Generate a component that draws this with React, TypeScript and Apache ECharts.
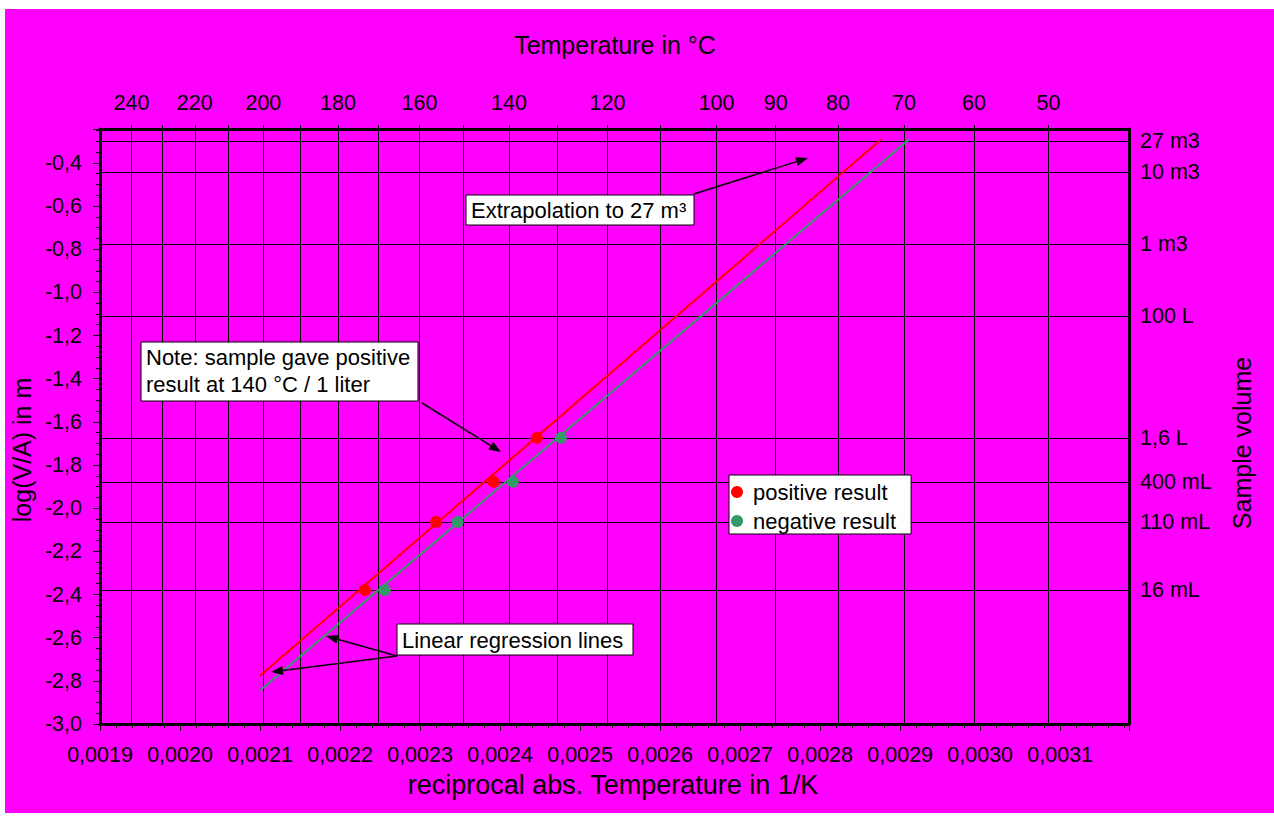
import React, { useEffect, useRef } from 'react';
import * as echarts from 'echarts';

// ---- axis ranges ----
const xMin = 0.0019;
const xMax = 0.003186;
const topMin = 0.0019093;
const topMax = 0.0031953;
const yMin = -3.0;
const yMax = -0.243;

// ---- temperature axis (°C) ----
const gridTemps = [240, 230, 220, 210, 200, 190, 180, 170, 160, 150, 140, 130, 120, 110, 100, 90, 80, 70, 60, 50];
const labelTemps = [240, 220, 200, 180, 160, 140, 120, 100, 90, 80, 70, 60, 50];

// ---- sample volume axis ----
const volumeLabels = ['27 m3', '10 m3', '1 m3', '100 L', '1,6 L', '400 mL', '110 mL', '16 mL'];
const volumeLogVA = [-0.298, -0.442, -0.775, -1.109, -1.674, -1.878, -2.064, -2.379];

// ---- measurements ----
const positiveX = [0.002231, 0.00232, 0.002392, 0.002446];
const positiveY = [-2.379, -2.064, -1.878, -1.674];
const negativeX = [0.002256, 0.002347, 0.002416, 0.002476];
const negativeY = [-2.379, -2.064, -1.878, -1.674];

// ---- regression lines ----
const fitPositiveX = [0.0021, 0.002876];
const fitPositiveY = [-2.776, -0.292];
const fitNegativeX = [0.0021, 0.002911];
const fitNegativeY = [-2.845, -0.292];

const FONT = '"Liberation Sans", Arial, Helvetica, sans-serif';
const RED = '#FF0000';
const GREEN = '#339966';

const toRecip = (t: number) => 1 / (t + 273.15);
const pairs = (xs: number[], ys: number[]) => xs.map((x, i) => [x, ys[i]]);

function arrow(x1: number, y1: number, x2: number, y2: number) {
  const a = Math.atan2(y2 - y1, x2 - x1);
  const L = 12;
  const W = 4.5;
  const c = Math.cos(a);
  const s = Math.sin(a);
  const bx = x2 - L * c;
  const by = y2 - L * s;
  return [
    { type: 'line', z: 100, shape: { x1, y1, x2: bx, y2: by }, style: { stroke: '#000', lineWidth: 1.5 } },
    {
      type: 'polygon', z: 100,
      shape: { points: [[x2, y2], [bx - s * W, by + c * W], [bx + s * W, by - c * W]] },
      style: { fill: '#000' },
    },
  ];
}

function textEl(x: number, y: number, text: string, fontSize: number, extra: any = {}) {
  return {
    type: 'text', z: 101, x, y, ...extra,
    style: {
      text, fontSize, fontFamily: FONT, fill: '#000',
      align: extra.align || 'left', verticalAlign: 'middle',
      textAlign: extra.align || 'left', textVerticalAlign: 'middle',
      lineHeight: 27,
    },
  };
}

function box(x: number, y: number, w: number, h: number) {
  return { type: 'rect', z: 100, shape: { x, y, width: w, height: h }, style: { fill: '#fff', stroke: '#000', lineWidth: 1 } };
}

export default function App() {
  const ref = useRef<HTMLDivElement>(null);

  useEffect(() => {
    if (!ref.current) return;
    const chart = echarts.init(ref.current, undefined, { renderer: 'svg' });
    const black = { color: '#000', width: 1 };
    const labelBase = { color: '#000', fontSize: 21.5, fontFamily: FONT };

    const option: any = {
      animation: false,
      backgroundColor: 'transparent',
      textStyle: { fontFamily: FONT },
      grid: { left: 100, top: 129, width: 1029, height: 595, containLabel: false },
      legend: {
        data: ['positive result', 'negative result'],
        orient: 'vertical',
        left: 729,
        top: 475,
        icon: 'circle',
        itemWidth: 22,
        itemHeight: 12,
        itemGap: 7,
        padding: [6, 15, 2, 2],
        backgroundColor: '#fff',
        borderColor: '#000',
        borderWidth: 1,
        borderRadius: 0,
        selectedMode: false,
        textStyle: { color: '#000', fontSize: 22, fontFamily: FONT },
      },
      xAxis: [
        {
          type: 'value', position: 'bottom', min: xMin, max: xMax, interval: 0.0001,
          axisLine: { show: true, onZero: false, lineStyle: { color: '#000', width: 3 } },
          axisTick: { show: true, inside: false, length: 7, lineStyle: black },
          minorTick: { show: true, splitNumber: 5, length: 4, lineStyle: black },
          axisLabel: {
            ...labelBase, margin: 20, showMaxLabel: false, showMinLabel: true,
            formatter: (v: number) => v.toFixed(4).replace('.', ','),
          },
          splitLine: { show: false },
          minorSplitLine: { show: false },
        },
        {
          type: 'value', position: 'top', min: topMin, max: topMax,
          axisLine: { show: true, onZero: false, lineStyle: { color: '#000', width: 3 } },
          axisTick: { show: true, inside: false, length: 4, lineStyle: black, customValues: gridTemps.map(toRecip) },
          axisLabel: {
            ...labelBase, margin: 15, customValues: labelTemps.map(toRecip),
            formatter: (v: number) => String(Math.round(1 / v - 273.15)),
          },
          splitLine: { show: true, lineStyle: black },
        },
      ],
      yAxis: [
        {
          type: 'value', position: 'left', min: yMin, max: yMax, interval: 0.2,
          axisLine: { show: true, onZero: false, lineStyle: { color: '#000', width: 3 } },
          axisTick: { show: true, inside: false, length: 7, lineStyle: black },
          minorTick: { show: true, splitNumber: 4, length: 4, lineStyle: black },
          axisLabel: {
            ...labelBase, margin: 18, showMaxLabel: false,
            formatter: (v: number) => v.toFixed(1).replace('.', ','),
          },
          splitLine: { show: false },
        },
        {
          type: 'value', position: 'right', min: yMin, max: yMax,
          axisLine: { show: true, onZero: false, lineStyle: { color: '#000', width: 3 } },
          axisTick: { show: false, customValues: volumeLogVA },
          axisLabel: {
            ...labelBase, margin: 11, align: 'left', customValues: volumeLogVA,
            formatter: (v: number) => {
              let best = 0;
              volumeLogVA.forEach((d, i) => { if (Math.abs(d - v) < Math.abs(volumeLogVA[best] - v)) best = i; });
              return volumeLabels[best];
            },
          },
          splitLine: { show: true, lineStyle: black },
        },
      ],
      series: [
        {
          type: 'line', name: 'fit positive', xAxisIndex: 0, yAxisIndex: 0,
          data: pairs(fitPositiveX, fitPositiveY), symbol: 'none', silent: true, z: 3,
          lineStyle: { color: RED, width: 2 }, itemStyle: { color: RED },
        },
        {
          type: 'line', name: 'fit negative', xAxisIndex: 0, yAxisIndex: 0,
          data: pairs(fitNegativeX, fitNegativeY), symbol: 'none', silent: true, z: 3,
          lineStyle: { color: GREEN, width: 2 }, itemStyle: { color: GREEN },
        },
        {
          type: 'scatter', name: 'positive result', xAxisIndex: 0, yAxisIndex: 0,
          data: pairs(positiveX, positiveY), symbol: 'circle', symbolSize: 12, z: 5,
          itemStyle: { color: RED, opacity: 1 },
        },
        {
          type: 'scatter', name: 'negative result', xAxisIndex: 0, yAxisIndex: 0,
          data: pairs(negativeX, negativeY), symbol: 'circle', symbolSize: 12, z: 5,
          itemStyle: { color: GREEN, opacity: 1 },
        },
      ],
      graphic: [
        textEl(615, 45, 'Temperature in °C', 25, { align: 'center' }),
        textEl(613, 785, 'reciprocal abs. Temperature in 1/K', 27, { align: 'center' }),
        textEl(22, 450, 'log(V/A) in m', 25, { align: 'center', rotation: Math.PI / 2 }),
        textEl(1242, 443, 'Sample volume', 25, { align: 'center', rotation: Math.PI / 2 }),
        box(466, 195, 228, 30),
        textEl(471, 210, 'Extrapolation to 27 m³', 22),
        ...arrow(694, 194, 808, 158),
        box(141, 342, 277, 59),
        textEl(146, 371, 'Note: sample gave positive\nresult at 140 °C / 1 liter', 22),
        ...arrow(422, 403, 501, 452),
        box(397, 624, 236, 31),
        textEl(402, 640, 'Linear regression lines', 22),
        ...arrow(397, 656, 326, 636),
        ...arrow(397, 656, 271, 672),
      ],
    };

    chart.setOption(option);
    return () => chart.dispose();
  }, []);

  return (
    <div style={{ position: 'fixed', left: 0, top: 0, width: 1274, height: 824, background: '#fff' }}>
      <div style={{ position: 'absolute', left: 5, top: 9, width: 1269, height: 804, background: '#FF00FF' }} />
      <div ref={ref} style={{ position: 'absolute', left: 0, top: 0, width: 1274, height: 824 }} />
    </div>
  );
}
